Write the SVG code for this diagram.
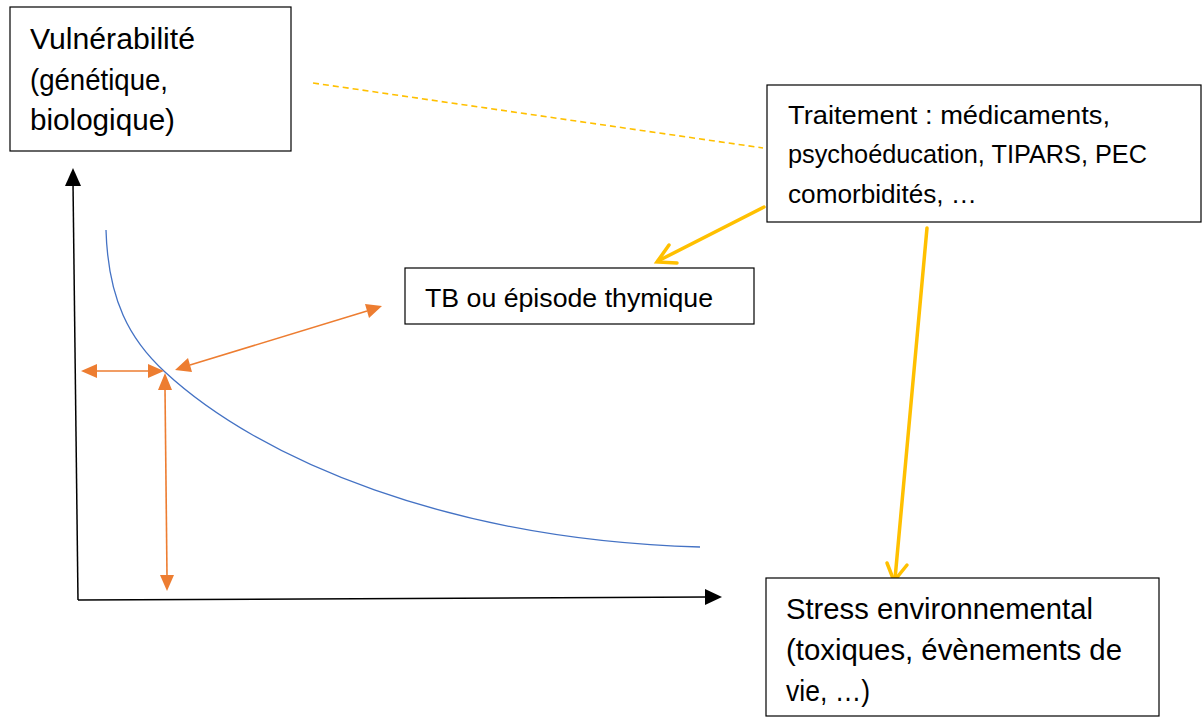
<svg xmlns="http://www.w3.org/2000/svg" width="1203" height="717" viewBox="0 0 1203 717">
<defs>
<style>
.box{fill:#fff;stroke:#000;stroke-width:1.2}
.t{font-family:"Liberation Sans",Arial,sans-serif;fill:#000}
.big{font-size:29.5px}
.mid{font-size:26px}
.axis{stroke:#000;stroke-width:1.5;fill:none}
.or{stroke:#ED7D31;stroke-width:1.6;fill:none}
.ye{stroke:#FFC000;stroke-width:3.5;fill:none;stroke-linecap:round}
</style>
</defs>
<rect width="1203" height="717" fill="#fff"/>
<g id="connectors">
<path class="axis" d="M78,600 L73,183"/>
<path d="M73,168 L65,186 L81,186 z" fill="#000"/>
<path class="axis" d="M78,600 L707,597"/>
<path d="M722,597 L705,589 L705,605 z" fill="#000"/>
<path d="M106,230 C108,300 130,340 165,372 C260,460 450,540 700,547" fill="none" stroke="#4472C4" stroke-width="1.3"/>
<path class="or" d="M96,371 L149,371"/>
<path d="M81,371 L97,364 L97,378 z M164,371 L148,364 L148,378 z" fill="#ED7D31"/>
<path class="or" d="M190,365 L367,311"/>
<path d="M175,370 L188,358 L192,372 z M382,306 L369,318 L365,304 z" fill="#ED7D31"/>
<path class="or" d="M165,389 L167,576"/>
<path d="M165,373 L158,390 L172,390 z M167,591 L160,575 L174,575 z" fill="#ED7D31"/>
<path d="M313,83 L763,148" stroke="#FFC000" stroke-width="1.6" stroke-dasharray="6,4" fill="none"/>
<path class="ye" d="M764,207 L658,261"/>
<path class="ye" d="M669,245 L657,262 L677,263"/>
<path class="ye" d="M927,228 L895,579"/>
<path class="ye" d="M887,563 L894,581 L907,565"/>
</g>
<g id="node-vulnerabilite">
<rect class="box" x="10" y="7" width="281" height="144"/>
<text class="t big" x="30" y="49" textLength="165" lengthAdjust="spacingAndGlyphs">Vulnérabilité</text>
<text class="t big" x="30" y="90" textLength="138" lengthAdjust="spacingAndGlyphs">(génétique,</text>
<text class="t big" x="30" y="130" textLength="145" lengthAdjust="spacingAndGlyphs">biologique)</text>
</g>
<g id="node-traitement">
<rect class="box" x="767" y="85" width="434" height="137"/>
<text class="t mid" x="788" y="124" textLength="322" lengthAdjust="spacingAndGlyphs">Traitement : médicaments,</text>
<text class="t mid" x="788" y="163" textLength="359" lengthAdjust="spacingAndGlyphs">psychoéducation, TIPARS, PEC</text>
<text class="t mid" x="788" y="203" textLength="189" lengthAdjust="spacingAndGlyphs">comorbidités, …</text>
</g>
<g id="node-tb">
<rect class="box" x="405" y="268" width="349" height="56"/>
<text class="t mid" x="425" y="307" textLength="288" lengthAdjust="spacingAndGlyphs">TB ou épisode thymique</text>
</g>
<g id="node-stress">
<rect class="box" x="766" y="578" width="393" height="138"/>
<text class="t big" x="786" y="619" textLength="307" lengthAdjust="spacingAndGlyphs">Stress environnemental</text>
<text class="t big" x="786" y="660" textLength="336" lengthAdjust="spacingAndGlyphs">(toxiques, évènements de</text>
<text class="t big" x="786" y="701" textLength="84" lengthAdjust="spacingAndGlyphs">vie, …)</text>
</g>
</svg>
